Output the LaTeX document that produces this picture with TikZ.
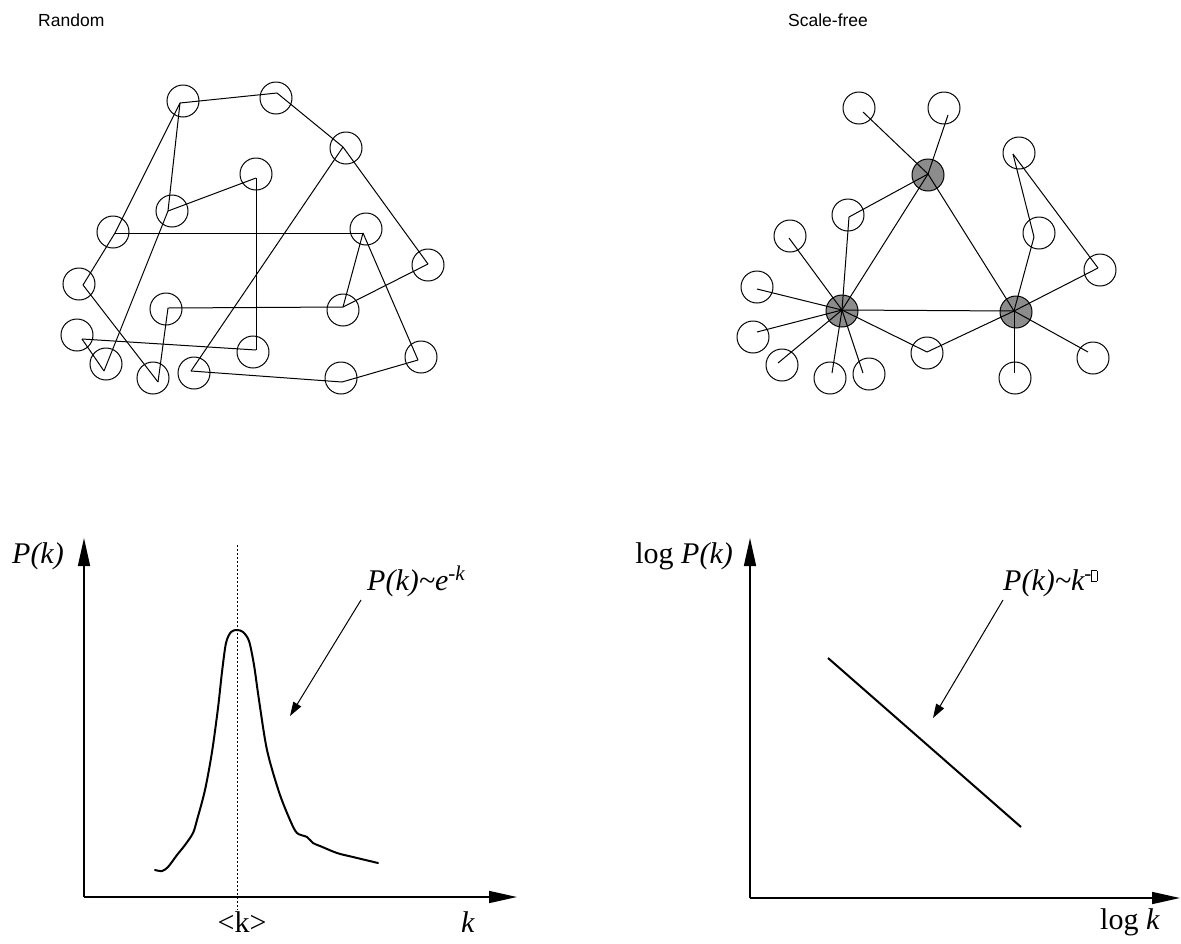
\documentclass[tikz,border=0pt]{standalone}
\usepackage{fontspec}
\setmainfont{Liberation Serif}
\newfontfamily\labelsans{Liberation Sans}
\usetikzlibrary{arrows.meta}
\definecolor{hubgray}{RGB}{140,140,140}
\newcommand{\missingglyph}{{\setlength\fboxsep{0pt}\setlength\fboxrule{0.5pt}\framebox[6pt]{\rule{0pt}{10pt}}}}
\begin{document}
\begin{tikzpicture}[x=1pt,y=-1pt,
  vtx/.style={circle,draw,line width=1pt,minimum size=32pt,inner sep=0pt},
  hub/.style={vtx,fill=hubgray},
  edge/.style={line width=1pt},
  axis/.style={line width=1.6pt,-{Triangle[length=28pt,width=12pt]}},
  pointer/.style={line width=1pt,-{Triangle[length=14pt,width=9pt]}},
  title/.style={font=\labelsans\fontsize{17.5}{20}\selectfont,anchor=west,inner sep=0pt},
  lab/.style={font=\fontsize{30}{34}\selectfont,inner sep=0pt}
]
\useasboundingbox (0,0) rectangle (1181,943);

% ---------- titles
\node[title] (tR) at (38,20) {Random};
\node[title] (tS) at (788,20) {Scale-free};

% ---------- random graph
\foreach \n/\cx/\cy/\vx/\vy in {
  1/183/101/180/103, 2/276/98/277/93, 3/346/148/343/147, 4/256/174/256/178,
  5/172/211/168/211, 6/113/232/115/233, 7/366/229/363/233, 8/428/265/428/264,
  9/79/284/83/285, 10/166/309/168/308, 11/343/310/343/307, 12/77/335/82/339,
  13/106/364/104/371, 14/153/378/158/382, 15/194/373/191/371, 16/253/352/256/350,
  17/341/378/342/382, 18/421/357/418/360}{
  \node[vtx] (r\n) at (\cx,\cy) {};
  \coordinate (rv\n) at (\vx,\vy);
}
\foreach \a/\b in {1/2,2/3,3/8,3/15,1/6,6/9,9/14,6/7,7/11,7/18,8/11,11/10,10/14,
  1/5,5/4,5/13,12/13,12/16,4/16,15/17,17/18}{
  \draw[edge] (rv\a) -- (rv\b);
}

% ---------- scale-free graph
\node[hub] (hT) at (928,175) {};
\node[hub] (hL) at (842,311) {};
\node[hub] (hR) at (1016,312) {};
\coordinate (svT) at (928,174);
\coordinate (svL) at (842,310);
\coordinate (svR) at (1014,311);
\foreach \n/\cx/\cy/\vx/\vy in {
  a/859/108/863/112, b/944/108/948/115, c/848/215/849/217, d/790/236/789/238,
  e/757/287/757/289, f/753/337/757/332, g/782/365/778/363, h/830/378/832/373,
  i/869/374/863/373, j/927/353/927/352, k/1015/378/1014/373, l/1093/358/1088/352,
  m/1100/270/1098/268, n/1019/153/1013/154, o/1039/233/1034/237}{
  \node[vtx] (s\n) at (\cx,\cy) {};
  \coordinate (sv\n) at (\vx,\vy);
}
\foreach \a/\b in {T/a,T/b,T/c,T/L,T/R,L/R,L/c,L/d,L/e,L/f,L/g,L/h,L/i,L/j,
  R/j,R/k,R/l,R/m,R/o,o/n,n/m}{
  \draw[edge] (sv\a) -- (sv\b);
}

% ---------- left plot
\coordinate (O1) at (84,897);
\coordinate (Y1) at (84,538);
\coordinate (X1) at (517,897);
\draw[axis] (O1) -- (Y1);
\draw[axis] (O1) -- (X1);
\coordinate (m1) at (237,545);
\coordinate (m2) at (237,910);
\draw[dash pattern=on 2pt off 2pt,line width=0.8pt] (m1) -- (m2);
\draw[line width=2pt,line join=round,line cap=round] plot[smooth,tension=0.5] coordinates {
 (155,870) (162,871) (168,867) (177,855) (185,845) (193,833) (197,820) (205,790)
 (212,752) (218,708) (222,672) (226,643) (231,632) (237,630) (243,632) (249,641)
 (254,665) (259,700) (267,750) (279,792) (290,820) (297,833) (307,837) (313,843)
 (320,846) (337,853) (353,857) (378,863)};
\node[lab,anchor=base east] (pk1) at (64,563) {\textit{P(k)}};
\node[lab,anchor=base west] (f1) at (367,590) {\textit{P(k)\textasciitilde e\textsuperscript{-k}}};
\node[lab,anchor=base] (kmean) at (242,932) {<k>};
\node[lab,anchor=base] (k1) at (468,932) {\textit{k}};
\coordinate (p1s) at (361,600);
\coordinate (p1e) at (290,716);
\draw[pointer] (p1s) -- (p1e);

% ---------- right plot
\coordinate (O2) at (750,898);
\coordinate (Y2) at (750,538);
\coordinate (X2) at (1180,898);
\draw[axis] (O2) -- (Y2);
\draw[axis] (O2) -- (X2);
\coordinate (l1) at (828,658);
\coordinate (l2) at (1021,827);
\draw[line width=2pt] (l1) -- (l2);
\node[lab,anchor=base east] (pk2) at (733,563) {log \textit{P(k)}};
\node[lab,anchor=base west] (f2) at (1003,590) {\textit{P(k)\textasciitilde k\textsuperscript{-\missingglyph}}};
\node[lab,anchor=base west] (k2) at (1100,929) {log \textit{k}};
\coordinate (p2s) at (1003,600);
\coordinate (p2e) at (933,718);
\draw[pointer] (p2s) -- (p2e);
\end{tikzpicture}
\end{document}
